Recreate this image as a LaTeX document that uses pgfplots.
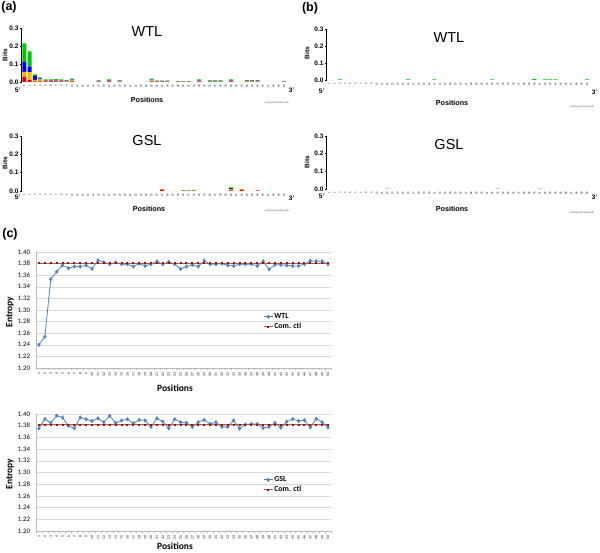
\documentclass[border=0pt]{standalone}
\usepackage{pgfplots}
\pgfplotsset{compat=1.18}
\usepackage{pgfplotstable}
\usepackage{fontspec}
\setmainfont{Liberation Sans}
\newfontfamily\calibri{Carlito}
\definecolor{xlblue}{RGB}{79,129,189}
\definecolor{xlred}{RGB}{192,80,77}
\definecolor{xldark}{RGB}{120,30,30}
\definecolor{lgA}{RGB}{0,200,0}
\definecolor{lgC}{RGB}{0,0,230}
\definecolor{lgG}{RGB}{255,179,0}
\definecolor{lgT}{RGB}{220,0,0}

\pgfplotstableread{
x T G C A
1 0.028 0.028 0.056 0.103
2 0.010 0.045 0.030 0.085
3 0.004 0.008 0.020 0.010
4 0.004 0.010 0.006 0.005
5 0.003 0.004 0.004 0.004
6 0.003 0.004 0.004 0.004
7 0.003 0.004 0.004 0.005
8 0.003 0.004 0.003 0.004
9 0.002 0.003 0.003 0.004
10 0.004 0.005 0.004 0.006
15 0.002 0.002 0.002 0.003
17 0.003 0.004 0.004 0.004
19 0.002 0.002 0.002 0.003
25 0.004 0.005 0.004 0.006
26 0.002 0.002 0.002 0.002
27 0.002 0.002 0.002 0.002
28 0.002 0.002 0.002 0.002
30 0.001 0.001 0.001 0.002
31 0.001 0.001 0.001 0.002
32 0.001 0.001 0.001 0.002
34 0.003 0.004 0.004 0.004
36 0.002 0.002 0.002 0.003
37 0.002 0.002 0.002 0.003
38 0.002 0.002 0.002 0.003
40 0.003 0.004 0.004 0.004
43 0.002 0.003 0.003 0.003
44 0.002 0.003 0.003 0.003
45 0.002 0.003 0.003 0.003
50 0.001 0.001 0.002 0.002
}\logoaWTL

\pgfplotstableread{
x T G C A
27 0.008 0.004 0.000 0.000
31 0.002 0.000 0.000 0.003
32 0.002 0.001 0.000 0.002
33 0.002 0.002 0.000 0.002
40 0.004 0.006 0.005 0.005
42 0.006 0.006 0.000 0.000
45 0.004 0.000 0.000 0.000
}\logoaGSL

\pgfplotstableread{
x T G C A
3 0 0 0 0.004
16 0 0 0 0.004
21 0 0 0 0.004
32 0 0 0 0.004
40 0 0 0 0.005
42 0.002 0 0 0.005
43 0 0 0 0.004
44 0 0 0 0.004
50 0 0 0 0.004
}\logobWTL

\pgfplotstableread{
x T G C A
12 0 0 0 0.002
33 0 0 0 0.002
41 0 0 0 0.002
}\logobGSL

\pgfplotstableread{
x y
1 1.240
2 1.254
3 1.353
4 1.366
5 1.377
6 1.372
7 1.375
8 1.375
9 1.377
10 1.371
11 1.386
12 1.382
13 1.379
14 1.382
15 1.379
16 1.379
17 1.375
18 1.380
19 1.376
20 1.379
21 1.384
22 1.379
23 1.383
24 1.379
25 1.371
26 1.375
27 1.378
28 1.375
29 1.385
30 1.379
31 1.379
32 1.380
33 1.377
34 1.376
35 1.379
36 1.379
37 1.379
38 1.376
39 1.384
40 1.370
41 1.378
42 1.378
43 1.377
44 1.376
45 1.376
46 1.379
47 1.385
48 1.384
49 1.384
50 1.379
}\entWTL

\pgfplotstableread{
x y
1 1.3755
2 1.3914
3 1.385
4 1.397
5 1.394
6 1.380
7 1.3755
8 1.394
9 1.391
10 1.388
11 1.3926
12 1.386
13 1.397
14 1.3846
15 1.389
16 1.391
17 1.384
18 1.390
19 1.389
20 1.378
21 1.3926
22 1.387
23 1.3755
24 1.391
25 1.386
26 1.385
27 1.378
28 1.386
29 1.390
30 1.383
31 1.386
32 1.378
33 1.378
34 1.389
35 1.375
36 1.382
37 1.383
38 1.383
39 1.376
40 1.378
41 1.385
42 1.3766
43 1.387
44 1.3915
45 1.388
46 1.3894
47 1.377
48 1.392
49 1.386
50 1.377
}\entGSL

\pgfplotstableread{
x y
1 1.3805
2 1.3805
3 1.3805
4 1.3805
5 1.3805
6 1.3805
7 1.3805
8 1.3805
9 1.3805
10 1.3805
11 1.3805
12 1.3805
13 1.3805
14 1.3805
15 1.3805
16 1.3805
17 1.3805
18 1.3805
19 1.3805
20 1.3805
21 1.3805
22 1.3805
23 1.3805
24 1.3805
25 1.3805
26 1.3805
27 1.3805
28 1.3805
29 1.3805
30 1.3805
31 1.3805
32 1.3805
33 1.3805
34 1.3805
35 1.3805
36 1.3805
37 1.3805
38 1.3805
39 1.3805
40 1.3805
41 1.3805
42 1.3805
43 1.3805
44 1.3805
45 1.3805
46 1.3805
47 1.3805
48 1.3805
49 1.3805
50 1.3805
}\ctlWTL

\pgfplotstableread{
x y
1 1.382
2 1.382
3 1.382
4 1.382
5 1.382
6 1.382
7 1.382
8 1.382
9 1.382
10 1.382
11 1.382
12 1.382
13 1.382
14 1.382
15 1.382
16 1.382
17 1.382
18 1.382
19 1.382
20 1.382
21 1.382
22 1.382
23 1.382
24 1.382
25 1.382
26 1.382
27 1.382
28 1.382
29 1.382
30 1.382
31 1.382
32 1.382
33 1.382
34 1.382
35 1.382
36 1.382
37 1.382
38 1.382
39 1.382
40 1.382
41 1.382
42 1.382
43 1.382
44 1.382
45 1.382
46 1.382
47 1.382
48 1.382
49 1.382
50 1.382
}\ctlGSL

\pgfplotsset{
  logo/.style={
    scale only axis, xmin=0.5, ymin=0, ymax=0.3,
    enlargelimits=false,
    ybar stacked, bar width=4pt,
    axis x line*=bottom, axis y line*=left,
    x axis line style={draw=none},
    y axis line style={-, line width=0.6pt},
    xtick={1,...,50}, xtick style={draw=none},
    xticklabel style={rotate=90, anchor=east, font=\fontsize{2.6}{3}\selectfont, inner sep=0.4pt},
    ytick={0,0.1,0.2,0.3},
    ytick style={black, line width=0.5pt},
    tick align=outside, major tick length=2pt,
    yticklabel style={font=\bfseries\fontsize{6.5}{7}\selectfont, inner sep=1pt,
      /pgf/number format/.cd, fixed, fixed zerofill, precision=1},
    /pgf/number format/assume math mode=true,
  },
  entropy/.style={
    scale only axis, width=295pt,
    xmin=0.5, xmax=50.5, ymin=1.2, ymax=1.4,
    enlargelimits=false,
    axis x line*=bottom, axis y line*=left,
    axis line style={-, gray!55, line width=0.5pt},
    ymajorgrids, grid style={gray!30, line width=0.5pt},
    ytick={1.20,1.22,1.24,1.26,1.28,1.30,1.32,1.34,1.36,1.38,1.40},
    ytick style={draw=none},
    yticklabel style={font=\calibri\fontsize{6.8}{7}\selectfont, inner sep=1.5pt,
      /pgf/number format/.cd, fixed, fixed zerofill, precision=2},
    xtick={1,...,50},
    major x tick style={draw=none},
    minor xtick={0.5,1.5,...,50.5},
    minor x tick style={gray!55, line width=0.4pt},
    minor tick length=2pt, tick align=outside,
    xticklabel style={rotate=90, anchor=east, font=\calibri\fontsize{3.6}{4}\selectfont, inner sep=0.6pt},
    /pgf/number format/assume math mode=true,
    legend style={draw=none, fill=none, font=\calibri\bfseries\fontsize{7.8}{8}\selectfont,
      row sep=1pt, inner sep=0pt, nodes={inner sep=1pt}},
    legend cell align=left,
    legend image code/.code={\draw[mark repeat=2,mark phase=2,##1] plot coordinates {(0pt,0pt) (4.5pt,0pt) (9pt,0pt)};},
  },
  wser/.style={xlblue, line width=0.8pt, mark=diamond*, mark size=1.5pt, mark options={xlblue}},
  cser/.style={xlred, line width=1pt, mark=square*, mark size=0.5pt, mark options={xldark, fill=xldark}},
}

\newcommand{\logobars}[1]{%
  \addplot[fill=lgT, draw=none] table[x=x,y=T]{#1};
  \addplot[fill=lgG, draw=none] table[x=x,y=G]{#1};
  \addplot[fill=lgC, draw=none] table[x=x,y=C]{#1};
  \addplot[fill=lgA, draw=none] table[x=x,y=A]{#1};
}

\begin{document}
\begin{tikzpicture}
\useasboundingbox (0pt,0pt) rectangle (600pt,-553pt);

% ---------- (a) WTL ----------
\begin{axis}[logo, at={(21.65pt,-82pt)}, anchor=south west, width=267.65pt, height=54pt, xmax=51]
\logobars{\logoaWTL}
\end{axis}
% ---------- (a) GSL ----------
\begin{axis}[logo, at={(21.65pt,-191pt)}, anchor=south west, width=267.65pt, height=55pt, xmax=51]
\logobars{\logoaGSL}
\end{axis}
% ---------- (b) WTL ----------
\begin{axis}[logo, at={(326.67pt,-80pt)}, anchor=south west, width=265.6pt, height=51pt, xmax=51]
\logobars{\logobWTL}
\end{axis}
% ---------- (b) GSL ----------
\begin{axis}[logo, at={(326.67pt,-189pt)}, anchor=south west, width=265.6pt, height=53pt, xmax=51]
\logobars{\logobGSL}
\end{axis}

% ---------- (c) top ----------
\begin{axis}[entropy, at={(36pt,-368pt)}, anchor=south west, height=116pt,
  legend style={at={(0.77,0.48)}, anchor=north west}]
\addplot[wser] table[x=x,y=y]{\entWTL};
\addlegendentry{WTL}
\addplot[cser] table[x=x,y=y]{\ctlWTL};
\addlegendentry{Com. ctl}
\end{axis}
% ---------- (c) bottom ----------
\begin{axis}[entropy, at={(36pt,-531pt)}, anchor=south west, height=117pt,
  legend style={at={(0.77,0.476)}, anchor=north west}]
\addplot[wser] table[x=x,y=y]{\entGSL};
\addlegendentry{GSL}
\addplot[cser] table[x=x,y=y]{\ctlGSL};
\addlegendentry{Com. ctl}
\end{axis}

% ---------- texts ----------
\begin{scope}[every node/.style={inner sep=0pt}]
\node[font=\bfseries\fontsize{12.5}{13}\selectfont] at (9pt,-7pt) {(a)};
\node[font=\bfseries\fontsize{12.5}{13}\selectfont] at (310pt,-8pt) {(b)};
\node[font=\bfseries\fontsize{12.5}{13}\selectfont] at (10pt,-234pt) {(c)};

\node[font=\fontsize{14.5}{15}\selectfont] at (147pt,-32pt) {WTL};
\node[font=\fontsize{14.5}{15}\selectfont] at (147pt,-141pt) {GSL};
\node[font=\fontsize{14.5}{15}\selectfont] at (449pt,-38pt) {WTL};
\node[font=\fontsize{14.5}{15}\selectfont] at (449pt,-145pt) {GSL};

\node[font=\bfseries\fontsize{6.5}{7}\selectfont, rotate=90] at (5pt,-55pt) {Bits};
\node[font=\bfseries\fontsize{6.5}{7}\selectfont, rotate=90] at (5pt,-163pt) {Bits};
\node[font=\bfseries\fontsize{6.5}{7}\selectfont, rotate=90] at (307pt,-53pt) {Bits};
\node[font=\bfseries\fontsize{6.5}{7}\selectfont, rotate=90] at (307pt,-162pt) {Bits};

\node[font=\bfseries\fontsize{6.5}{7}\selectfont] at (18pt,-90pt) {5$'$};
\node[font=\bfseries\fontsize{6.5}{7}\selectfont] at (18pt,-197pt) {5$'$};
\node[font=\bfseries\fontsize{6.5}{7}\selectfont] at (322pt,-91pt) {5$'$};
\node[font=\bfseries\fontsize{6.5}{7}\selectfont] at (322pt,-196pt) {5$'$};
\node[font=\bfseries\fontsize{6.5}{7}\selectfont] at (292pt,-90pt) {3$'$};
\node[font=\bfseries\fontsize{6.5}{7}\selectfont] at (292pt,-198pt) {3$'$};
\node[font=\bfseries\fontsize{6.5}{7}\selectfont] at (595pt,-92pt) {3$'$};
\node[font=\bfseries\fontsize{6.5}{7}\selectfont] at (595pt,-197pt) {3$'$};

\node[font=\bfseries\fontsize{7.2}{8}\selectfont] at (147pt,-100pt) {Positions};
\node[font=\bfseries\fontsize{7.2}{8}\selectfont] at (149pt,-209pt) {Positions};
\node[font=\bfseries\fontsize{7.2}{8}\selectfont] at (452pt,-103pt) {Positions};
\node[font=\bfseries\fontsize{7.2}{8}\selectfont] at (452pt,-209pt) {Positions};

\node[font=\fontsize{2.5}{3}\selectfont, gray!70!black] at (277pt,-103pt) {weblogo.berkeley.edu};
\node[font=\fontsize{2.5}{3}\selectfont, gray!70!black] at (277pt,-211pt) {weblogo.berkeley.edu};
\node[font=\fontsize{2.5}{3}\selectfont, gray!70!black] at (582pt,-107pt) {weblogo.berkeley.edu};
\node[font=\fontsize{2.5}{3}\selectfont, gray!70!black] at (582pt,-213pt) {weblogo.berkeley.edu};

\node[font=\calibri\bfseries\fontsize{9.5}{10}\selectfont, rotate=90] at (10pt,-312pt) {Entropy};
\node[font=\calibri\bfseries\fontsize{9.5}{10}\selectfont, rotate=90] at (10pt,-474pt) {Entropy};
\node[font=\calibri\bfseries\fontsize{9.5}{10}\selectfont] at (175pt,-388pt) {Positions};
\node[font=\calibri\bfseries\fontsize{9.5}{10}\selectfont] at (175pt,-546.5pt) {Positions};
\end{scope}
\end{tikzpicture}
\end{document}
